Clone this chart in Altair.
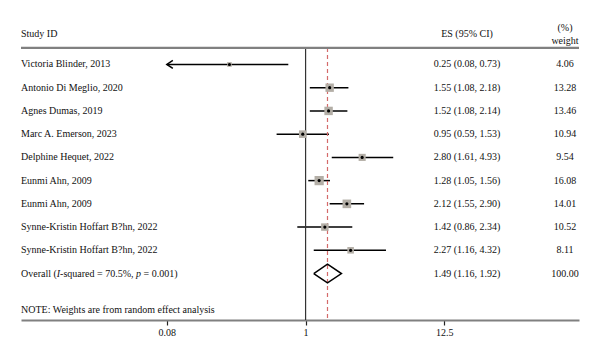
import altair as alt
import pandas as pd

# ---- data ----
studies = ["Victoria Blinder, 2013", "Antonio Di Meglio, 2020", "Agnes Dumas, 2019",
           "Marc A. Emerson, 2023", "Delphine Hequet, 2022", "Eunmi Ahn, 2009",
           "Eunmi Ahn, 2009", "Synne-Kristin Hoffart B?hn, 2022",
           "Synne-Kristin Hoffart B?hn, 2022"]
es = [0.25, 1.55, 1.52, 0.95, 2.80, 1.28, 2.12, 1.42, 2.27]
lo = [0.08, 1.08, 1.08, 0.59, 1.61, 1.05, 1.55, 0.86, 1.16]
hi = [0.73, 2.18, 2.14, 1.53, 4.93, 1.56, 2.90, 2.34, 4.32]
weights = [4.06, 13.28, 13.46, 10.94, 9.54, 16.08, 14.01, 10.52, 8.11]
overall_es, overall_lo, overall_hi, overall_w = 1.49, 1.16, 1.92, 100.00
tick_values = [0.08, 1, 12.5]
note = "NOTE: Weights are from random effect analysis"

FONT = "Liberation Serif"
FS = 10
TXT = "#111111"
W, H = 558, 302
ES_X, WT_X = 446, 544

df = pd.DataFrame(dict(row=list(range(len(studies))), study=studies, es=es, lo=lo, hi=hi, w=weights))
df["es_text"] = [f"{e:.2f} ({l:.2f}, {h:.2f})" for e, l, h in zip(es, lo, hi)]
df["w_text"] = [f"{v:.2f}" for v in weights]
overall_row = len(studies)

xscale = alt.Scale(type="log", domain=[0.005627, 145], nice=False)
yscale = alt.Scale(domain=[-2, 11], reverse=True, nice=False, zero=False)
XAX = alt.Axis(values=tick_values, format=".3~g", grid=False, title=None,
               domainColor="#808080", domainWidth=2.2,
               tickColor="#222222", tickSize=5, tickWidth=1.2,
               labelFont=FONT, labelFontSize=FS, labelColor="#111111",
               labelPadding=2, labelFlush=False)
Y = alt.Y("row:Q", scale=yscale, axis=None)


def X(field):
    return alt.X(field, scale=xscale, axis=XAX, title=None)


base = alt.Chart(df)

# CI lines
ci = base.mark_rule(color="black", strokeWidth=1.5).encode(x=X("lo:Q"), x2="hi:Q", y=Y)

squares = base.mark_point(shape="square", filled=True, color="#b3aea6", opacity=1).encode(
    x=X("es:Q"), y=Y,
    size=alt.Size("w:Q", scale=alt.Scale(domain=[0, 16.08], range=[0, 85]), legend=None))

dots = base.mark_point(shape="circle", filled=True, color="black", size=10, opacity=1).encode(
    x=X("es:Q"), y=Y)

arrows = alt.Chart(df[df["lo"] <= tick_values[0]]).mark_point(
    shape="M 1.5 -1 L 0 0 L 1.5 1", filled=False, color="black", strokeWidth=1.5,
    size=64, opacity=1).encode(x=X("lo:Q"), y=Y)

names = base.mark_text(align="left", baseline="middle", font=FONT, fontSize=FS, color=TXT).encode(
    x=alt.value(0), y=Y, text="study:N")
es_txt = base.mark_text(align="center", baseline="middle", font=FONT, fontSize=FS, color=TXT).encode(
    x=alt.value(ES_X), y=Y, text="es_text:N")
w_txt = base.mark_text(align="center", baseline="middle", font=FONT, fontSize=FS, color=TXT).encode(
    x=alt.value(WT_X), y=Y, text="w_text:N")

# reference lines
ref = pd.DataFrame({"x": [1.0], "y1": [-0.71], "y2": [11]})
null_line = alt.Chart(ref).mark_rule(color="#333333", strokeWidth=1.2).encode(
    x=X("x:Q"), y=alt.Y("y1:Q", scale=yscale, axis=None), y2="y2:Q")
ovl = pd.DataFrame({"x": [overall_es], "y1": [-0.71], "y2": [11]})
ovl_line = alt.Chart(ovl).mark_rule(color="#d46a6a", strokeWidth=1.2, strokeDash=[4, 3]).encode(
    x=X("x:Q"), y=alt.Y("y1:Q", scale=yscale, axis=None), y2="y2:Q")

# header line
hdr = pd.DataFrame({"y": [-0.71]})
hdr_line = alt.Chart(hdr).mark_rule(color="#808080", strokeWidth=2.2).encode(
    x=alt.value(0), x2=alt.value(W), y=alt.Y("y:Q", scale=yscale, axis=None))

# overall diamond
dia = pd.DataFrame({"x": [overall_lo, overall_es, overall_hi, overall_es, overall_lo],
                    "row": [overall_row, overall_row - 0.4, overall_row, overall_row + 0.4, overall_row],
                    "o": [0, 1, 2, 3, 4]})
diamond = alt.Chart(dia).mark_line(color="black", strokeWidth=1.5).encode(
    x=X("x:Q"), y=Y, order="o:Q")


# texts: headers, overall row, note
def txt(x, row, s, align="left", style="normal"):
    return alt.Chart(pd.DataFrame({"row": [row], "t": [s]})).mark_text(
        align=align, baseline="middle", font=FONT, fontSize=FS, color=TXT, fontStyle=style
    ).encode(x=alt.value(x), y=Y, text="t:N")


segments = [("Overall (", "normal", 0), ("I", "italic", 35.8), ("-squared = 70.5%,", "normal", 39.1),
            ("p", "italic", 115.0), ("= 0.001)", "normal", 122.5)]
texts = [txt(0, -1.33, "Study ID"),
         txt(ES_X, -1.29, "ES (95% CI)", "center"),
         txt(WT_X, -1.55, "(%)", "center"),
         txt(WT_X, -1.0, "weight", "center"),
         txt(ES_X, overall_row, f"{overall_es:.2f} ({overall_lo:.2f}, {overall_hi:.2f})", "center"),
         txt(WT_X, overall_row, f"{overall_w:.2f}", "center"),
         txt(0, 10.59, note)]
texts += [txt(dx, overall_row, s, "left", st) for s, st, dx in segments]

chart = alt.layer(ci, null_line, ovl_line, hdr_line, squares, dots, arrows, diamond,
                  names, es_txt, w_txt, *texts).properties(
    width=W, height=H,
    autosize=alt.AutoSizeParams(type="none"),
    padding={"left": 13, "top": 10, "right": 5, "bottom": 22},
).configure(background="white", view=alt.ViewConfig(stroke=None))

chart.save("out.html", embed_options={"renderer": "svg", "actions": False})
